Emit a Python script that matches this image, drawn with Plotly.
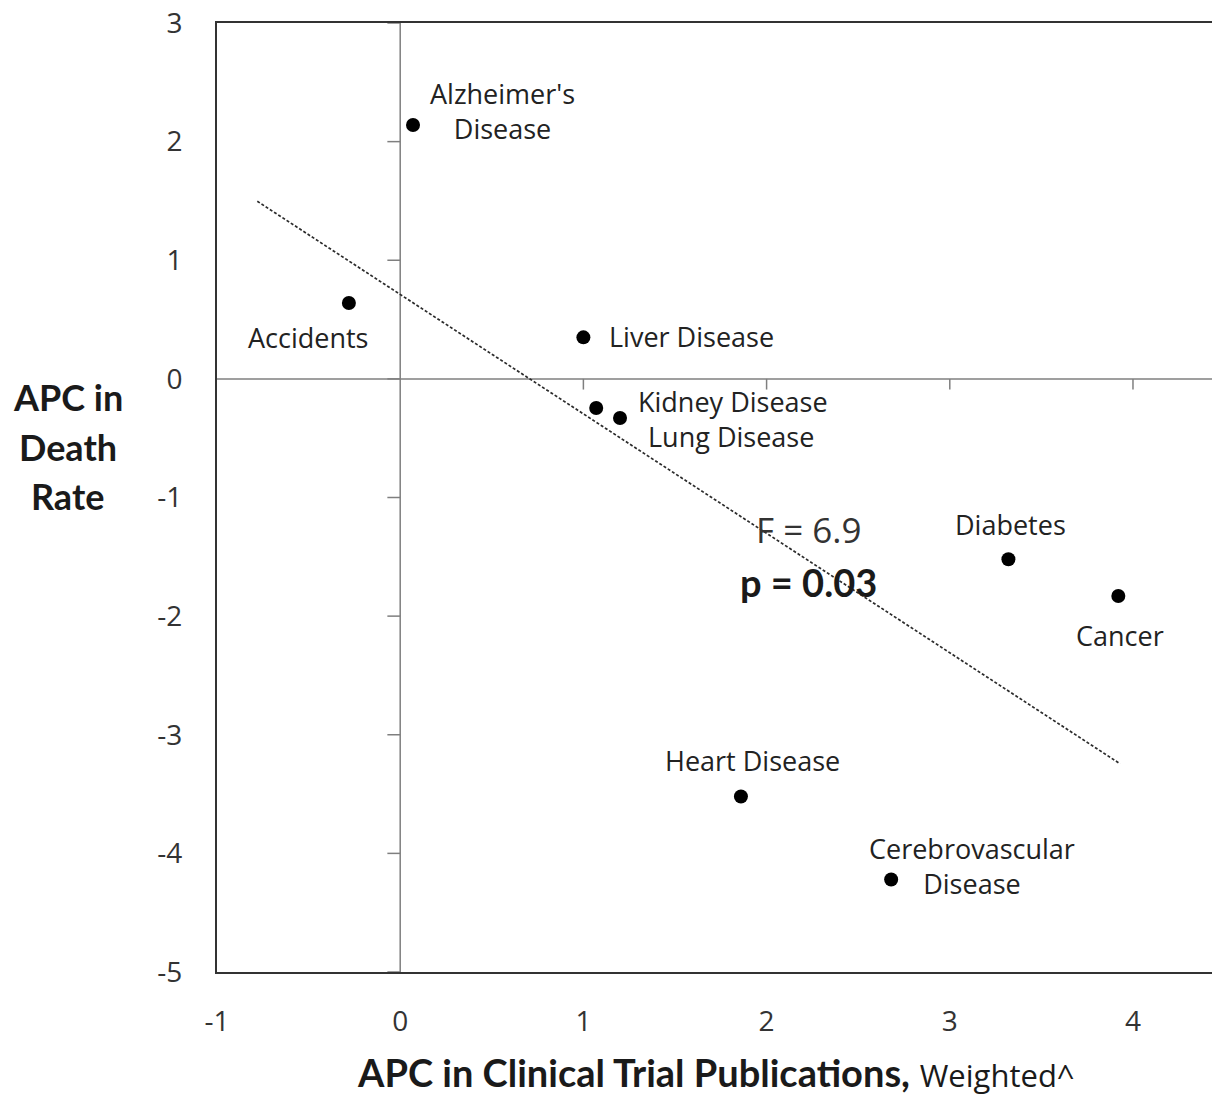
import numpy as np
import plotly.graph_objects as go

# ---- data ----
diseases = ["Alzheimer's<br>Disease", "Accidents", "Liver Disease", "Kidney Disease",
            "Lung Disease", "Diabetes", "Cancer", "Heart Disease", "Cerebrovascular<br>Disease"]
apc_publications = [0.07, -0.28, 1.00, 1.07, 1.20, 3.32, 3.92, 1.86, 2.68]
apc_death_rate = [2.14, 0.64, 0.35, -0.245, -0.33, -1.52, -1.83, -3.52, -4.22]
trend_x = [-0.78, 3.93]
x_ticks = [-1, 0, 1, 2, 3, 4]
x_tick_labels = ["-1", "0", "1", "2", "3", "4"]
y_ticks = [-5, -4, -3, -2, -1, 0, 1, 2, 3]
y_tick_labels = ["-5", "-4", "-3", "-2", "-1", "0", "1", "2", "3"]
stat_f = "F = 6.9"
stat_p = "p = 0.03"
stat_pos = (2.23, -1.27, -1.71)

# label offsets in pixels (xshift, yshift, xanchor)
label_style = [
    (89, 14, "center"), (-40, -35, "center"), (24, 1, "left"), (40, 6, "left"),
    (26, -18, "left"), (2, 35, "center"), (2, -40, "center"), (12, 36, "center"),
    (81, 13, "center"),
]

slope, intercept = np.polyfit(apc_publications, apc_death_rate, 1)
trend_y = [intercept + slope * x for x in trend_x]

TXT = "Open Sans, DejaVu Sans, sans-serif"
BOLD = "Lato, Open Sans, sans-serif"
GRAY = "#7f7f7f"

fig = go.Figure()

# zero lines
fig.add_trace(go.Scatter(x=[x_ticks[0], 4.6], y=[0, 0], mode="lines",
                         line=dict(color=GRAY, width=1.5), hoverinfo="skip", showlegend=False))
fig.add_trace(go.Scatter(x=[0, 0], y=[y_ticks[0], y_ticks[-1]], mode="lines",
                         line=dict(color=GRAY, width=1.5), hoverinfo="skip", showlegend=False))
# small tick marks on the zero lines (below the horizontal, left of the vertical)
tx, ty = [], []
for t in x_ticks:
    if t > 0:
        tx += [t, t, None]
        ty += [0, -0.09, None]
for t in y_ticks:
    tx += [0, -0.07, None]
    ty += [t, t, None]
fig.add_trace(go.Scatter(x=tx, y=ty, mode="lines", line=dict(color=GRAY, width=1.5),
                         hoverinfo="skip", showlegend=False))

# trend line
fig.add_trace(go.Scatter(x=trend_x, y=trend_y, mode="lines",
                         line=dict(color="#2b2b2b", width=1.7, dash="3px,2px"),
                         hoverinfo="skip", showlegend=False))

# points
fig.add_trace(go.Scatter(x=apc_publications, y=apc_death_rate, mode="markers",
                         marker=dict(color="black", size=14), showlegend=False,
                         text=diseases, hoverinfo="text"))

for name, x, y, (dx, dy, anc) in zip(diseases, apc_publications, apc_death_rate, label_style):
    fig.add_annotation(x=x, y=y, text=name, showarrow=False, xshift=dx, yshift=dy,
                       xanchor=anc, yanchor="middle", align="center",
                       font=dict(family=TXT, size=27, color="#222222"))

fig.add_annotation(x=stat_pos[0], y=stat_pos[1], text=stat_f, showarrow=False,
                   xanchor="center", yanchor="middle",
                   font=dict(family=TXT, size=35, color="#333333"))
fig.add_annotation(x=stat_pos[0], y=stat_pos[2], text="<b>" + stat_p + "</b>", showarrow=False,
                   xanchor="center", yanchor="middle",
                   font=dict(family=BOLD, size=38, color="#1a1a1a"))

# axis titles
for txt, yp in zip(["APC in", "Death", "Rate"], [0.606, 0.553, 0.502]):
    fig.add_annotation(xref="paper", yref="paper", x=-0.1486, y=yp, text="<b>" + txt + "</b>",
                       xanchor="center", yanchor="middle",
                       showarrow=False, font=dict(family=BOLD, size=36, color="#1a1a1a"))
fig.add_annotation(xref="paper", yref="paper", x=0.4975, y=-0.1054,
                   xanchor="center", yanchor="middle",
                   text="<b>APC in Clinical Trial Publications,</b> "
                        "<span style='font-family:Open Sans;font-size:31px'>Weighted^</span>",
                   showarrow=False, font=dict(family=BOLD, size=38, color="#1a1a1a"))

fig.update_xaxes(range=[-1, 4.475], tickvals=x_ticks, ticktext=x_tick_labels,
                 showgrid=False, zeroline=False, automargin=False, ticklabeloverflow="allow",
                 showline=True, linecolor="#333333", linewidth=2, mirror=True,
                 ticks="", ticklabelstandoff=23,
                 tickfont=dict(family=TXT, size=28, color="#333333"))
fig.update_yaxes(range=[-5, 3], tickvals=y_ticks, ticktext=y_tick_labels,
                 showgrid=False, zeroline=False, automargin=False, ticklabeloverflow="allow",
                 showline=True, linecolor="#333333", linewidth=2, mirror=False,
                 ticks="", ticklabelstandoff=27,
                 tickfont=dict(family=TXT, size=28, color="#333333"))

fig.update_layout(width=1212, height=1087, margin=dict(l=209, r=0, t=15, b=123),
                  plot_bgcolor="white", paper_bgcolor="white", showlegend=False)

fig.write_html("out.html")
